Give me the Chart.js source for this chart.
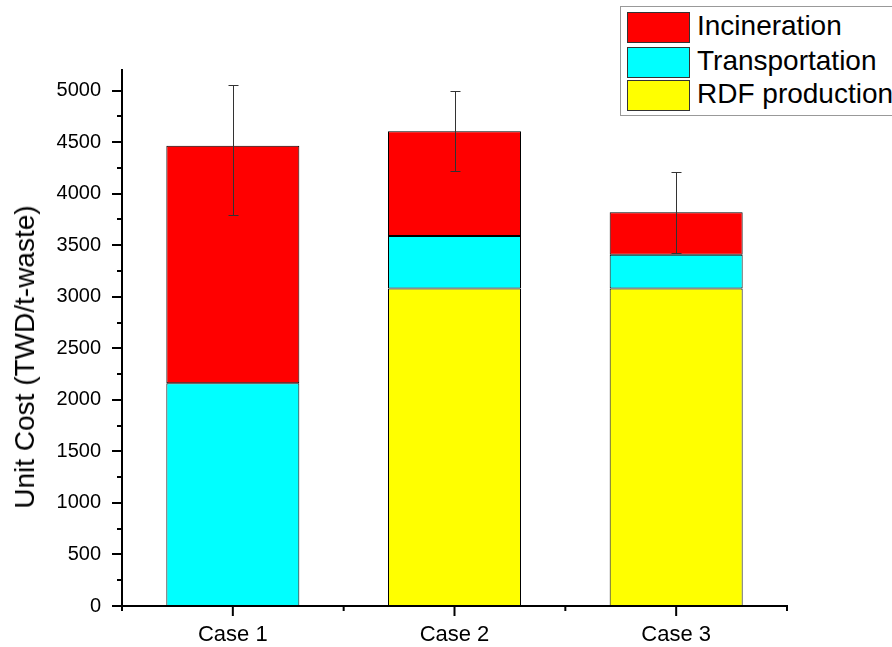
<!DOCTYPE html>
<html>
<head>
<meta charset="utf-8">
<script src="https://cdn.jsdelivr.net/npm/chart.js@4/dist/chart.umd.min.js"></script>
<style>
  html, body { margin: 0; padding: 0; background: #fff; }
  #wrap { position: relative; width: 892px; height: 647px; overflow: hidden; }
  #legend { position: absolute; left: 620px; top: 6px; width: 320px; height: 108px;
            border: 1px solid #999; background: #fff; font-family: "Liberation Sans", Arial, sans-serif; }
  .item { position: absolute; left: 6px; height: 30px; }
  .sw { position: absolute; left: 0; top: 0; width: 61px; height: 29px; border: 1px solid #333; }
  .lbl { position: absolute; left: 70px; top: -3px; font-size: 28px; line-height: 34px; color: #000; white-space: nowrap; }
  #ytitle { position: absolute; left: 25px; top: 357px; transform: translate(-50%, -50%) rotate(-90deg);
            font-family: "Liberation Sans", Arial, sans-serif; font-size: 28px; color: #000; white-space: nowrap; }
</style>
</head>
<body>
<div id="wrap">
  <canvas id="c" width="892" height="647"></canvas>
  <div id="legend"></div>
  <div id="ytitle">Unit Cost (TWD/t-waste)</div>
</div>
<script>
const categories = ['Case 1', 'Case 2', 'Case 3'];
const seriesNames = ['RDF production', 'Transportation', 'Incineration'];
const rdfProduction = [null, 3080, 3080];
const transportation = [2160, 510, 327];
const incineration = [2305, 1015, 413];
const errorPlus = [587, 395, 392];
const errorMinus = [673, 387, 394];
const yTickValues = [0, 500, 1000, 1500, 2000, 2500, 3000, 3500, 4000, 4500, 5000];
const seriesColors = ['#FFFF00', '#00FFFF', '#FF0000'];

const FONT = '"Liberation Sans", Arial, sans-serif';

// HTML legend (top to bottom: Incineration, Transportation, RDF production)
const legendOrder = [2, 1, 0];
const legendTops = [5, 40, 73];
const legendEl = document.getElementById('legend');
legendOrder.forEach((si, k) => {
  const it = document.createElement('div');
  it.className = 'item';
  it.style.top = legendTops[k] + 'px';
  it.innerHTML = '<div class="sw" style="background:' + seriesColors[si] + '"></div><div class="lbl">' + seriesNames[si] + '</div>';
  legendEl.appendChild(it);
});

const tickPlugin = {
  id: 'ticksAndErrors',
  afterDraw(chart) {
    const ctx = chart.ctx;
    const xs = chart.scales.x, ys = chart.scales.y;
    const area = chart.chartArea;
    ctx.save();
    ctx.strokeStyle = '#000';
    ctx.lineWidth = 2;
    // y ticks: major at labelled values, minor halfway between
    yTickValues.forEach((v, k) => {
      const py = Math.round(ys.getPixelForValue(v));
      ctx.beginPath();
      ctx.moveTo(area.left, py);
      ctx.lineTo(area.left - 10, py);
      ctx.stroke();
      if (k < yTickValues.length - 1) {
        const pm = Math.round(ys.getPixelForValue((v + yTickValues[k + 1]) / 2));
        ctx.beginPath();
        ctx.moveTo(area.left, pm);
        ctx.lineTo(area.left - 5, pm);
        ctx.stroke();
      }
    });
    // x ticks: major at categories, minor at boundaries
    for (let i = 0; i < categories.length; i++) {
      const px = xs.getPixelForValue(i);
      ctx.beginPath();
      ctx.moveTo(px, area.bottom);
      ctx.lineTo(px, area.bottom + 10);
      ctx.stroke();
    }
    for (let i = 0; i <= categories.length; i++) {
      const px = xs.getPixelForValue(i - 0.5);
      ctx.beginPath();
      ctx.moveTo(px, area.bottom);
      ctx.lineTo(px, area.bottom + 5);
      ctx.stroke();
    }
    // error bars
    ctx.strokeStyle = '#333';
    ctx.lineWidth = 1;
    for (let i = 0; i < categories.length; i++) {
      const total = (rdfProduction[i] || 0) + transportation[i] + incineration[i];
      const px = Math.round(xs.getPixelForValue(i)) + 0.5;
      const yTop = Math.round(ys.getPixelForValue(total + errorPlus[i])) + 0.5;
      const yBot = Math.round(ys.getPixelForValue(total - errorMinus[i])) + 0.5;
      ctx.beginPath();
      ctx.moveTo(px, yTop);
      ctx.lineTo(px, yBot);
      ctx.moveTo(px - 5, yTop);
      ctx.lineTo(px + 5, yTop);
      ctx.moveTo(px - 5, yBot);
      ctx.lineTo(px + 5, yBot);
      ctx.stroke();
    }
    ctx.restore();
  }
};

const datasets = [rdfProduction, transportation, incineration].map((d, i) => ({
  label: seriesNames[i],
  data: d,
  backgroundColor: seriesColors[i],
  borderColor: '#000',
  borderWidth: 1,
  borderSkipped: false,
  barPercentage: 0.6,
  categoryPercentage: 1.0
}));

new Chart(document.getElementById('c'), {
  type: 'bar',
  data: { labels: categories, datasets },
  plugins: [tickPlugin],
  options: {
    responsive: false,
    animation: false,
    devicePixelRatio: 1,
    layout: { padding: { top: 70, right: 105, left: 0, bottom: 0 } },
    plugins: { legend: { display: false }, tooltip: { enabled: false } },
    scales: {
      x: {
        stacked: true,
        grid: { display: false, drawTicks: false },
        border: { display: true, color: '#000', width: 2 },
        ticks: { color: '#000', font: { family: FONT, size: 22 }, padding: 16 },
        afterFit: s => { s.height = 41; }
      },
      y: {
        stacked: true,
        min: 0,
        max: 5200,
        grid: { display: false, drawTicks: false },
        border: { display: true, color: '#000', width: 2 },
        ticks: { color: '#000', font: { family: FONT, size: 20 }, padding: 21, autoSkip: false,
                 callback: v => String(v) },
        afterBuildTicks: s => { s.ticks = yTickValues.map(v => ({ value: v })); },
        afterFit: s => { s.width = 122; }
      }
    }
  }
});
</script>
</body>
</html>
